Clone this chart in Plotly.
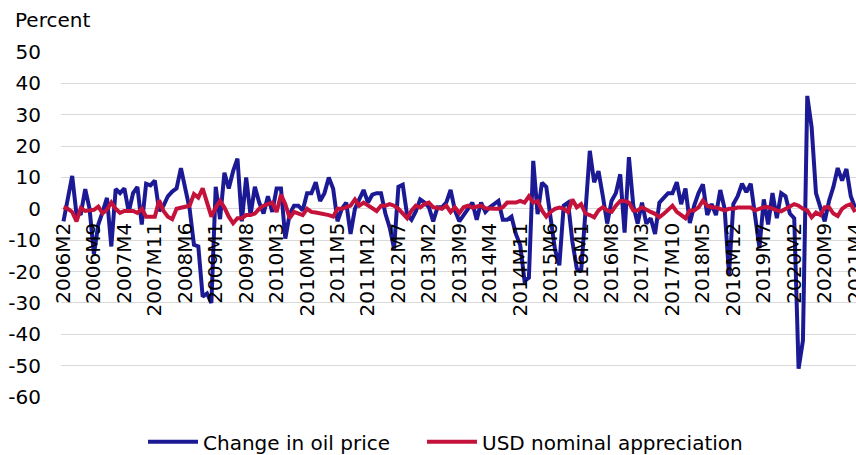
import plotly.graph_objects as go

# Monthly categories 2006M2 .. 2021M4
months = [f"{2006 + (1 + i) // 12}M{(1 + i) % 12 + 1}" for i in range(183)]
tick_labels = months[::7]
y_tick_values = [50, 40, 30, 20, 10, 0, -10, -20, -30, -40, -50, -60]
y_tick_labels = ["50", "40", "30", "20", "10", "0", "-10", "-20", "-30", "-40", "-50", "-60"]

oil_price_change = [
    -4, 3, 10.5, -1.8, -1.5, 6.3, 0, -14.5, -5, -1,
    3.5, -12, 6.3, 5, 6.5, -1, 5, 7, -5, 8,
    7.5, 9, -0.7, 1, 4, 5.5, 6.5, 13, 6.7, 0,
    -11.5, -12, -28, -27, -30, 7, -3.3, 11.5, 6.5, 12,
    16, -4, 10, -2, 7, 2, -1.5, 4, -1, 6.5,
    6.5, -9.5, -1.7, 1, 1, -0.5, 5, 5, 8.5, 2.5,
    5, 10, 6.4, -4, 0, 2, -8, 0, 3, 6,
    2, 4.5, 5, 5, -1.5, -6, -12.7, 7, 7.7, -2,
    -3.5, -0.8, 3, 2, 0.5, -4, 0.5, 0.5, 2, 6,
    -0.5, -4, -2, 0, 2, -3.5, 2, -1, 0.5, 1.5,
    2.5, -3.5, -3.5, -2.5, -8, -11.5, -23, -22, 15.3, -1.7,
    8.3, 7, -3, -13, -18, 1, 2, -10.5, -19, -20,
    -1, 18.5, 8.5, 12, 4, -4.7, 2.5, 5, 11, -7.6,
    16.5, 1, -4.7, 2, -4.7, -3, -8, 2, 3.5, 5,
    5, 8.5, 1.5, 6.5, -4.5, 1, 5, 7.8, -2, 1.5,
    -2, 6, 0, -21, 1.5, 4, 8, 5.3, 8, -2,
    -12.5, 3, -5, 5, -3, 5, 4, -1.5, -3, -51,
    -42, 36, 26, 5, 0.5, -4, 2.5, 7, 13, 9,
    12.7, 4, 0.3,
]

usd_appreciation = [
    0.5, 0, -1, -4, 0.3, -0.7, -0.5, -0.3, 0.7, -1.4,
    -0.3, 2, 0, -1.3, -0.7, -0.7, -0.7, -1.3, 0, -2.5,
    -2.5, -2.5, 2.7, -0.7, -2.5, -3.3, 0, 0.4, 0.7, 1,
    4.7, 3.6, 6.5, 2, -2.5, 0.4, 2.5, 0.4, -2.5, -4.6,
    -3, -3, -2, -2, -1.5, 0, 1, 1.5, 2, -1,
    4.5, 1.5, -3, -1, -1.4, -2, 0, -1, -1.2, -1.4,
    -1.8, -2, -2.5, 0, 0, 0.5, 1, 3, 1, 2,
    1, 0, -0.7, 1, 1, 1.5, 1, 0, -1.7, -3,
    -0.6, 1, 0.4, 1.5, 2, 0.5, 0.3, 0, 1, -1,
    0.5, -1.3, 0.5, 1, 0.4, 0.7, 1, 0.2, 0, 0,
    0, 0.5, 2, 2, 2, 2.5, 2, 4, 2, 2.5,
    -0.5, -2.5, -1, 0, 0.4, 0, -1, 3, 0.5, 1.5,
    -1.5, -2, -2.7, -0.5, 0.5, -0.5, -1, 1, 2.5, 2.5,
    2, -0.5, -0.5, 0.5, -0.4, -1, -1.6, -2.7, -1.6, -0.5,
    1, -1, -2, -3, -0.5, -0.5, 0.5, 2.6, 1, 0.5,
    0.4, 0, -0.5, 0, 0, 0.4, 0.4, 0.4, 0.4, -0.5,
    0, 0.5, 0.6, 0, -0.5, -0.8, 0, 1, 1.5, 1,
    0, -0.5, -2.7, -1.2, -2, 0.5, 0.5, -1.5, -2.3, 0,
    1, 1.5, -1,
]

assert len(oil_price_change) == len(months) == len(usd_appreciation)

BLUE = "#1b1a94"
RED = "#c4123a"
GRID = "#d9d9d9"
FONT = "DejaVu Sans"

fig = go.Figure()
fig.add_trace(go.Scatter(
    x=months, y=oil_price_change, mode="lines", name="Change in oil price",
    line=dict(color=BLUE, width=4), legend="legend",
))
fig.add_trace(go.Scatter(
    x=months, y=usd_appreciation, mode="lines", name="USD nominal appreciation",
    line=dict(color=RED, width=4), legend="legend2",
))

legend_common = dict(
    orientation="h", xanchor="left", y=-0.13, yanchor="middle",
    font=dict(family=FONT, size=20, color="#000000"),
    itemwidth=50, tracegroupgap=0, bgcolor="rgba(0,0,0,0)",
)

fig.update_layout(
    width=856, height=455,
    margin=dict(l=61, r=0, t=52, b=58, autoexpand=False),
    paper_bgcolor="white", plot_bgcolor="white",
    font=dict(family=FONT, size=20, color="#000000"),
    showlegend=True,
    legend=dict(x=(143 - 61) / 795, **legend_common),
    legend2=dict(x=(422 - 61) / 795, **legend_common),
    xaxis=dict(
        type="category", range=[-0.57, 182.2],
        tickmode="array", tickvals=tick_labels, ticktext=tick_labels,
        tickangle=-90, tickfont=dict(family=FONT, size=20, color="#000000"),
        showgrid=False, showline=False, zeroline=False, ticks="",
        anchor="free", position=60 / 110, ticklabelstandoff=9,
        automargin=False,
    ),
    yaxis=dict(
        range=[-60, 50], tickmode="array",
        tickvals=y_tick_values, ticktext=y_tick_labels,
        showgrid=True, gridcolor=GRID, gridwidth=1.2,
        zeroline=True, zerolinecolor=GRID, zerolinewidth=1.2,
        showline=False, ticks="",
        tickfont=dict(family=FONT, size=20, color="#000000"),
        ticklabelstandoff=19, automargin=False,
    ),
    annotations=[dict(
        text="Percent", xref="paper", yref="paper",
        x=(13 - 61) / 795, y=(455 - 58 - 20) / 345,
        xanchor="left", yanchor="middle", showarrow=False,
        font=dict(family=FONT, size=20, color="#000000"),
    )],
)

fig.write_html(
    "out.html",
    config={"displayModeBar": False},
    post_script="document.body.style.margin='0px';",
)
